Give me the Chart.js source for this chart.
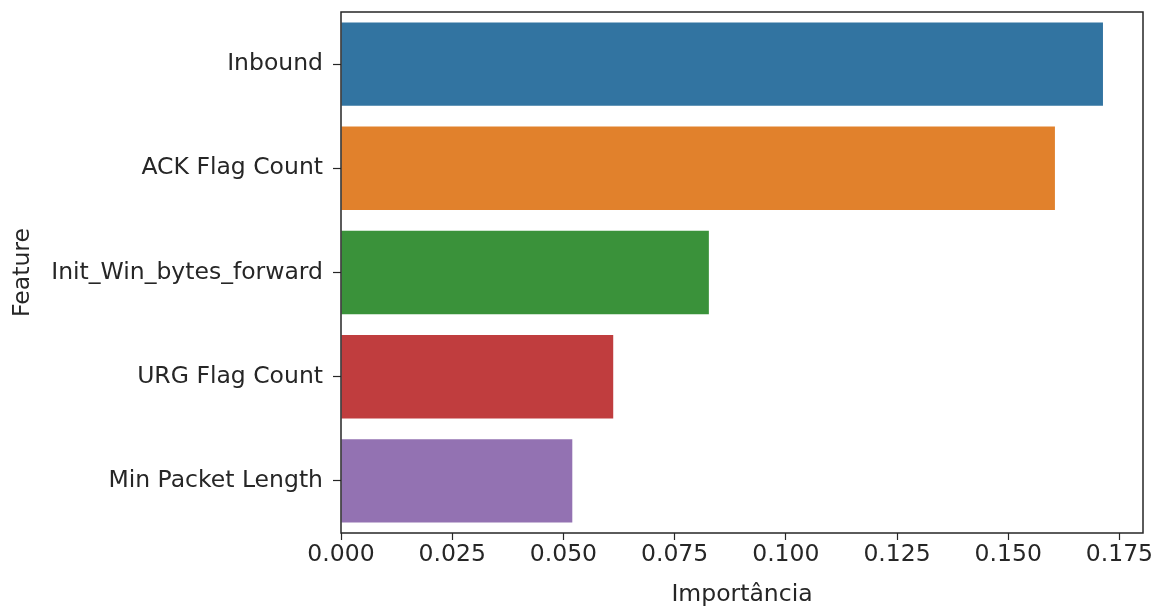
<!DOCTYPE html>
<html>
<head>
<meta charset="utf-8">
<script src="https://cdn.jsdelivr.net/npm/chart.js@4"></script>
<style>
  html, body { margin: 0; padding: 0; background: #fff; }
  #wrap { width: 1152px; height: 609px; }
</style>
</head>
<body>
<div id="wrap"><canvas id="myChart" width="1152" height="609"></canvas></div>
<script>
const features = ["Inbound", "ACK Flag Count", "Init_Win_bytes_forward", "URG Flag Count", "Min Packet Length"];
const importance = [0.1713, 0.1605, 0.0827, 0.0612, 0.0520];
const barColors = ["#3274a1", "#e1812c", "#3a923a", "#c03d3e", "#9372b2"];
const xTicks = [0, 0.025, 0.05, 0.075, 0.1, 0.125, 0.15, 0.175];
const xMax = 0.1803;

const frame = {
    id: "frame",
    afterDraw(chart) {
        const a = chart.chartArea;
        const c = chart.ctx;
        c.save();
        c.strokeStyle = "#262626";
        c.lineWidth = 1.5;
        c.strokeRect(a.left, a.top, a.right - a.left, a.bottom - a.top);
        c.restore();
    }
};

const font = { family: "'DejaVu Sans', sans-serif", size: 23.5 };

new Chart(document.getElementById("myChart").getContext("2d"), {
    type: "bar",
    data: {
        labels: features,
        datasets: [{
            data: importance,
            backgroundColor: barColors,
            borderWidth: 0,
            categoryPercentage: 0.8,
            barPercentage: 1.0
        }]
    },
    plugins: [frame],
    options: {
        indexAxis: "y",
        responsive: false,
        animation: false,
        events: [],
        layout: { padding: { top: 12, right: 9, left: 0, bottom: 0 } },
        plugins: { legend: { display: false }, tooltip: { enabled: false } },
        scales: {
            x: {
                min: 0,
                max: xMax,
                afterBuildTicks: (s) => { s.ticks = xTicks.map(v => ({ value: v })); },
                afterFit: (s) => { s.height = 76; s.paddingLeft = 0; s.paddingRight = 0; },
                grid: { display: true, drawOnChartArea: false, tickLength: 7, color: "#262626", tickWidth: 1.2 },
                border: { display: false },
                ticks: {
                    color: "#262626",
                    font: font,
                    padding: 1,
                    maxRotation: 0,
                    callback: (v) => Number(v).toFixed(3)
                },
                title: {
                    display: true,
                    text: "Importância",
                    color: "#262626",
                    font: font,
                    padding: { top: 0, bottom: 0 }
                }
            },
            y: {
                afterFit: (s) => { s.width = 341; s.paddingTop = 0; s.paddingBottom = 0; },
                grid: { display: true, offset: false, drawOnChartArea: false, tickLength: 8, color: "#262626", tickWidth: 1.2 },
                border: { display: false },
                ticks: { color: "#262626", font: font, padding: 10 },
                title: {
                    display: true,
                    text: "Feature",
                    color: "#262626",
                    font: font,
                    padding: { top: 9, bottom: 0 }
                }
            }
        }
    }
});
</script>
</body>
</html>
